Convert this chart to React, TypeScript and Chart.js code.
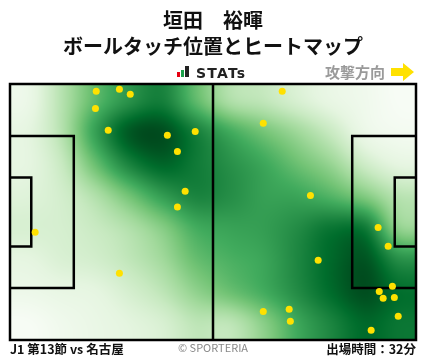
import React, { useEffect, useRef } from "react";
import { Chart, registerables } from "chart.js";

Chart.register(...registerables);

// ---- Data ----
const titleLines = ["垣田　裕暉", "ボールタッチ位置とヒートマップ"];
const matchLabel = "J1 第13節 vs 名古屋";
const minutesLabel = "出場時間：32分";
const creditLabel = "© SPORTERIA";
const directionLabel = "攻撃方向";
const brandLabel = "STATs";

// pitch size (m)
const pitchLength = 105;
const pitchWidth = 68;

// touch positions (metres from left / top)
const touchX = [22.3, 28.3, 31.1, 22.1, 25.4, 40.7, 47.9, 43.3, 45.3, 43.3, 6.5, 28.3, 70.4, 65.5, 77.7, 95.2, 97.8, 79.7, 98.9, 95.5, 96.5, 99.4, 100.4, 65.5, 72.2, 72.5, 93.4];
const touchY = [1.9, 1.4, 2.7, 6.5, 12.3, 13.6, 12.6, 17.9, 28.5, 32.7, 39.4, 50.3, 1.9, 10.4, 29.6, 38.1, 43.1, 46.8, 53.7, 55.1, 56.9, 56.7, 61.7, 60.4, 59.8, 63.0, 65.4];

// heat intensity (0..1) on a 12 x 8 grid, rows top -> bottom
const heatGrid = [
  [0.08, 0.30, 0.55, 0.72, 0.80, 0.55, 0.33, 0.27, 0.18, 0.10, 0.05, 0.00],
  [0.12, 0.30, 0.66, 0.93, 0.97, 0.80, 0.63, 0.50, 0.38, 0.24, 0.08, 0.03],
  [0.12, 0.24, 0.52, 0.78, 0.90, 0.82, 0.73, 0.64, 0.52, 0.40, 0.22, 0.12],
  [0.15, 0.20, 0.32, 0.50, 0.68, 0.78, 0.74, 0.67, 0.65, 0.58, 0.46, 0.30],
  [0.18, 0.19, 0.24, 0.32, 0.45, 0.62, 0.66, 0.68, 0.75, 0.84, 0.82, 0.42],
  [0.12, 0.17, 0.20, 0.27, 0.37, 0.53, 0.60, 0.65, 0.77, 0.89, 0.95, 0.74],
  [0.07, 0.10, 0.12, 0.19, 0.28, 0.42, 0.52, 0.62, 0.75, 0.88, 0.97, 0.87],
  [0.00, 0.05, 0.09, 0.13, 0.18, 0.28, 0.28, 0.44, 0.64, 0.78, 0.89, 0.84],
];

const greens: [number, number[]][] = [
  [0, [247, 252, 245]],
  [0.125, [229, 245, 224]],
  [0.25, [199, 233, 192]],
  [0.375, [161, 217, 155]],
  [0.5, [116, 196, 118]],
  [0.625, [65, 171, 93]],
  [0.75, [35, 139, 69]],
  [0.875, [0, 109, 44]],
  [1, [0, 68, 27]],
];

function colorAt(v: number): number[] {
  v = Math.max(0, Math.min(1, v));
  for (let i = 1; i < greens.length; i++) {
    if (v <= greens[i][0]) {
      const [a, ca] = greens[i - 1];
      const [b, cb] = greens[i];
      const t = (v - a) / (b - a);
      return [0, 1, 2].map((k) => ca[k] + (cb[k] - ca[k]) * t);
    }
  }
  return greens[greens.length - 1][1];
}

function cubic(p0: number, p1: number, p2: number, p3: number, t: number) {
  return (
    p1 +
    0.5 * t * (p2 - p0 + t * (2 * p0 - 5 * p1 + 4 * p2 - p3 + t * (3 * (p1 - p2) + p3 - p0)))
  );
}

function sampleGrid(gx: number, gy: number) {
  const rows = heatGrid.length;
  const cols = heatGrid[0].length;
  const g = (r: number, c: number) =>
    heatGrid[Math.max(0, Math.min(rows - 1, r))][Math.max(0, Math.min(cols - 1, c))];
  const ix = Math.floor(gx);
  const iy = Math.floor(gy);
  const tx = gx - ix;
  const ty = gy - iy;
  const col: number[] = [];
  for (let j = -1; j <= 2; j++) {
    col.push(cubic(g(iy + j, ix - 1), g(iy + j, ix), g(iy + j, ix + 1), g(iy + j, ix + 2), tx));
  }
  return cubic(col[0], col[1], col[2], col[3], ty);
}

const pitchPlugin = {
  id: "pitch",
  beforeDatasetsDraw(chart: any) {
    const { ctx, chartArea, scales } = chart;
    const { left, top, right, bottom } = chartArea;
    const w = Math.round(right - left);
    const h = Math.round(bottom - top);
    const off = document.createElement("canvas");
    off.width = w;
    off.height = h;
    const octx = off.getContext("2d")!;
    const img = octx.createImageData(w, h);
    const cols = heatGrid[0].length;
    const rows = heatGrid.length;
    for (let y = 0; y < h; y++) {
      for (let x = 0; x < w; x++) {
        const gx = ((x + 0.5) / w) * cols - 0.5;
        const gy = ((y + 0.5) / h) * rows - 0.5;
        const c = colorAt(sampleGrid(gx, gy));
        const i = (y * w + x) * 4;
        img.data[i] = c[0];
        img.data[i + 1] = c[1];
        img.data[i + 2] = c[2];
        img.data[i + 3] = 255;
      }
    }
    octx.putImageData(img, 0, 0);
    ctx.save();
    ctx.drawImage(off, left, top);

    const X = (m: number) => scales.x.getPixelForValue(m);
    const Y = (m: number) => scales.y.getPixelForValue(m);
    ctx.strokeStyle = "#000";
    ctx.lineWidth = 2.5;
    ctx.lineJoin = "miter";
    const line = (pts: number[][]) => {
      ctx.beginPath();
      pts.forEach(([mx, my], k) => (k ? ctx.lineTo(X(mx), Y(my)) : ctx.moveTo(X(mx), Y(my))));
      ctx.stroke();
    };
    const boxTop = (pitchWidth - 40.32) / 2;
    const boxBot = boxTop + 40.32;
    const gaTop = (pitchWidth - 18.32) / 2;
    const gaBot = gaTop + 18.32;
    // outer
    ctx.strokeRect(X(0), Y(0), X(pitchLength) - X(0), Y(pitchWidth) - Y(0));
    // halfway
    line([[pitchLength / 2, 0], [pitchLength / 2, pitchWidth]]);
    // penalty boxes
    line([[0, boxTop], [16.5, boxTop], [16.5, boxBot], [0, boxBot]]);
    line([[pitchLength, boxTop], [pitchLength - 16.5, boxTop], [pitchLength - 16.5, boxBot], [pitchLength, boxBot]]);
    // goal areas
    line([[0, gaTop], [5.5, gaTop], [5.5, gaBot], [0, gaBot]]);
    line([[pitchLength, gaTop], [pitchLength - 5.5, gaTop], [pitchLength - 5.5, gaBot], [pitchLength, gaBot]]);
    ctx.restore();
  },
  afterDraw(chart: any) {
    const { ctx } = chart;
    ctx.save();
    // brand logo bars
    ctx.fillStyle = "#e60012";
    ctx.fillRect(177, 72, 3, 5);
    ctx.fillStyle = "#1aa04a";
    ctx.fillRect(181, 70, 3, 7);
    ctx.fillStyle = "#222";
    ctx.fillRect(185, 66, 4, 11);
    ctx.fillStyle = "#222";
    ctx.font = "bold 14px 'DejaVu Sans'";
    (ctx as any).letterSpacing = "1.2px";
    ctx.textBaseline = "alphabetic";
    ctx.textAlign = "left";
    ctx.fillText(brandLabel, 196, 77.5);
    (ctx as any).letterSpacing = "0px";

    // direction
    ctx.textBaseline = "middle";
    ctx.fillStyle = "#9a9a9a";
    ctx.font = "bold 15px 'Noto Sans CJK JP'";
    ctx.fillText(directionLabel, 325, 72);
    ctx.fillStyle = "#ffe100";
    ctx.beginPath();
    ctx.moveTo(391, 68);
    ctx.lineTo(403, 68);
    ctx.lineTo(403, 63);
    ctx.lineTo(414, 72);
    ctx.lineTo(403, 81);
    ctx.lineTo(403, 76);
    ctx.lineTo(391, 76);
    ctx.closePath();
    ctx.fill();

    // footer
    ctx.fillStyle = "#111";
    ctx.font = "bold 12.5px 'Noto Sans CJK JP'";
    ctx.fillText(matchLabel, 10, 349);
    ctx.textAlign = "right";
    ctx.fillText(minutesLabel, 416, 349);
    ctx.textAlign = "center";
    ctx.fillStyle = "#888";
    ctx.font = "11px 'Noto Sans CJK JP'";
    ctx.fillText(creditLabel, 213, 348);
    ctx.restore();
  },
};

export default function App() {
  const ref = useRef<HTMLCanvasElement>(null);
  useEffect(() => {
    if (!ref.current) return;
    const chart = new Chart(ref.current, {
      type: "scatter",
      data: {
        datasets: [
          {
            data: touchX.map((x, i) => ({ x, y: touchY[i] })),
            backgroundColor: "#ffe100",
            borderWidth: 0,
            pointRadius: 3.5,
          },
        ],
      },
      options: {
        responsive: false,
        animation: false,
        layout: { padding: { left: 10, right: 12, top: 0, bottom: 19 } },
        scales: {
          x: { type: "linear", min: 0, max: pitchLength, display: false },
          y: { type: "linear", min: 0, max: pitchWidth, reverse: true, display: false },
        },
        plugins: {
          legend: { display: false },
          tooltip: { enabled: false },
          title: {
            display: true,
            text: titleLines,
            color: "#111",
            font: { size: 20, weight: "bold", family: "'Noto Sans CJK JP'", lineHeight: 1.3 },
            padding: { top: 7, bottom: 25 },
          },
        },
      },
      plugins: [pitchPlugin],
    });
    return () => chart.destroy();
  }, []);
  return (
    <div style={{ position: "absolute", left: 0, top: 0, width: 428, height: 359, background: "#fff" }}>
      <canvas ref={ref} width={428} height={359} />
    </div>
  );
}
